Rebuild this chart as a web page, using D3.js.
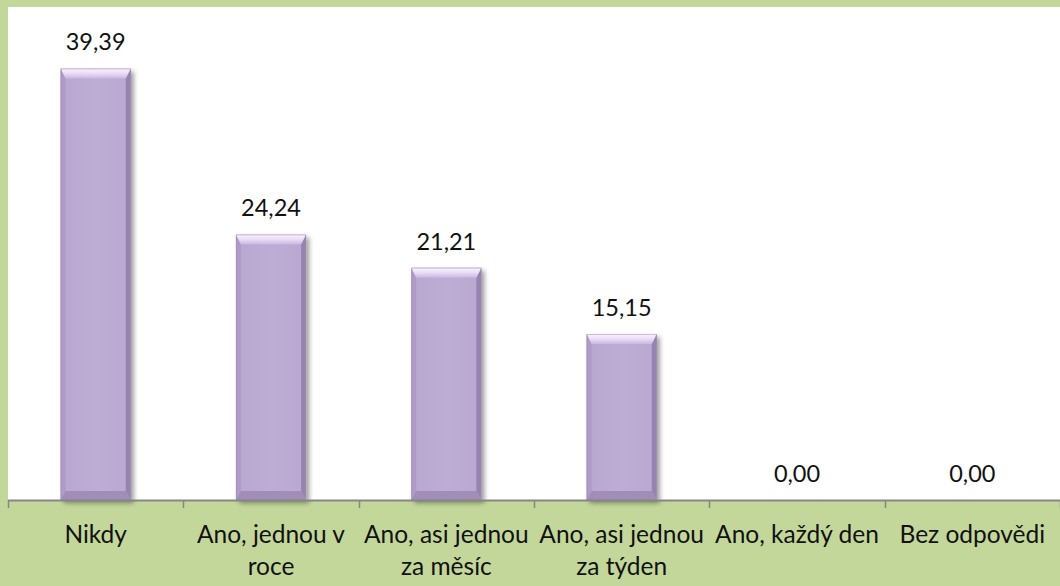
<!DOCTYPE html>
<html>
<head>
<meta charset="utf-8">
<script src="https://cdn.jsdelivr.net/npm/d3@7"></script>
<style>
  html, body { margin: 0; padding: 0; background: #c4d79b; }
  svg { display: block; }
  text { font-family: Lato, "Open Sans", sans-serif; fill: #111; }
</style>
</head>
<body>
<svg id="chart" width="1060" height="586"></svg>
<script>
// Survey answers and their shares (%)
const categories = ["Nikdy", "Ano, jednou v roce", "Ano, asi jednou za měsíc", "Ano, asi jednou za týden", "Ano, každý den", "Bez odpovědi"];
const values = [39.39, 24.24, 21.21, 15.15, 0.00, 0.00];
const yMax = 45;

const W = 1060, H = 586;
const plot = { left: 8, right: 1060, top: 7, bottom: 500 };

const svg = d3.select("#chart");

// Background frame and white plot area
svg.append("rect").attr("width", W).attr("height", H).attr("fill", "#c4d79b");
svg.append("rect")
  .attr("x", plot.left).attr("y", plot.top)
  .attr("width", plot.right - plot.left).attr("height", plot.bottom - plot.top)
  .attr("fill", "#ffffff");

const x = d3.scaleBand()
  .domain(categories)
  .range([plot.left, plot.right])
  .paddingInner(0.6)
  .paddingOuter(0.3);

const y = d3.scaleLinear().domain([0, yMax]).range([plot.bottom, plot.top]);

const defs = svg.append("defs");

// Soft shadow under each bar
const shadow = defs.append("filter").attr("id", "barShadow")
  .attr("x", "-20%").attr("y", "-10%").attr("width", "150%").attr("height", "130%");
shadow.append("feGaussianBlur").attr("in", "SourceAlpha").attr("stdDeviation", 2.5).attr("result", "blur");
shadow.append("feOffset").attr("in", "blur").attr("dx", 3).attr("dy", 3).attr("result", "off");
shadow.append("feComponentTransfer").attr("in", "off").attr("result", "shade")
  .append("feFuncA").attr("type", "linear").attr("slope", 0.4);
const merge = shadow.append("feMerge");
merge.append("feMergeNode").attr("in", "shade");
merge.append("feMergeNode").attr("in", "SourceGraphic");

// Bevel gradients
const gTop = defs.append("linearGradient").attr("id", "bevelTop").attr("x1", 0).attr("y1", 0).attr("x2", 0).attr("y2", 1);
gTop.append("stop").attr("offset", 0).attr("stop-color", "#fbf4ff");
gTop.append("stop").attr("offset", 0.5).attr("stop-color", "#e9dcf6");
gTop.append("stop").attr("offset", 1).attr("stop-color", "#c9b8de");
const gBody = defs.append("linearGradient").attr("id", "bevelBody").attr("x1", 0).attr("y1", 0).attr("x2", 1).attr("y2", 0);
gBody.append("stop").attr("offset", 0).attr("stop-color", "#b8a7cf");
gBody.append("stop").attr("offset", 0.5).attr("stop-color", "#bdacd4");
gBody.append("stop").attr("offset", 1).attr("stop-color", "#b9a8d0");

const data = categories.map((c, i) => ({ c, v: values[i] }));

const bars = svg.append("g").selectAll("g.bar")
  .data(data.filter(d => d.v > 0))
  .join("g").attr("class", "bar");

bars.each(function(d) {
  const g = d3.select(this);
  const x0 = x(d.c), w = x.bandwidth();
  const y0 = y(d.v), y1 = y(0);
  const bt = 10, bs = 5, bb = 9;   // bevel depths: top, sides, bottom
  const x1 = x0 + w;
  g.append("rect")
    .attr("x", x0).attr("y", y0).attr("width", w).attr("height", y1 - y0)
    .attr("fill", "url(#bevelBody)")
    .attr("filter", "url(#barShadow)");
  // left edge
  g.append("path").attr("d", `M${x0},${y0}L${x0 + bs},${y0 + bt}L${x0 + bs},${y1 - bb}L${x0},${y1}Z`)
    .attr("fill", "#ab99c3").attr("opacity", 0.8);
  // right edge
  g.append("path").attr("d", `M${x1},${y0}L${x1 - bs},${y0 + bt}L${x1 - bs},${y1 - bb}L${x1},${y1}Z`)
    .attr("fill", "#8f7daa").attr("opacity", 0.85);
  // bottom edge
  g.append("path").attr("d", `M${x0},${y1}L${x0 + bs},${y1 - bb}L${x1 - bs},${y1 - bb}L${x1},${y1}Z`)
    .attr("fill", "#a08eb9");
  // top edge
  g.append("path").attr("d", `M${x0},${y0}L${x1},${y0}L${x1 - bs},${y0 + bt}L${x0 + bs},${y0 + bt}Z`)
    .attr("fill", "url(#bevelTop)");
  // thin outline
  g.append("rect")
    .attr("x", x0 + 0.5).attr("y", y0 + 0.5).attr("width", w - 1).attr("height", y1 - y0 - 1)
    .attr("fill", "none").attr("stroke", "#9d8bb6").attr("stroke-width", 1).attr("opacity", 0.5);
});

// Value labels
svg.append("g").selectAll("text")
  .data(data)
  .join("text")
  .attr("x", d => x(d.c) + x.bandwidth() / 2)
  .attr("y", d => y(d.v) - 18)
  .attr("text-anchor", "middle")
  .attr("font-size", 23.5)
  .text(d => d.v.toFixed(2).replace(".", ","));

// Category axis
const axis = svg.append("g").attr("transform", `translate(0,${plot.bottom})`);
axis.append("line")
  .attr("x1", plot.left).attr("x2", plot.right).attr("y1", 0.5).attr("y2", 0.5)
  .attr("stroke", "#868686").attr("stroke-width", 2);
const step = x.step();
const tickPos = d3.range(categories.length + 1).map(i => plot.left + i * step);
axis.selectAll("line.tick").data(tickPos).join("line").attr("class", "tick")
  .attr("x1", d => Math.round(d) + 0.5).attr("x2", d => Math.round(d) + 0.5)
  .attr("y1", 0).attr("y2", 8)
  .attr("stroke", "#868686").attr("stroke-width", 1.5);

// Wrapped category labels
const labelG = axis.append("g");
categories.forEach(c => {
  const cx = x(c) + x.bandwidth() / 2;
  const t = labelG.append("text")
    .attr("text-anchor", "middle")
    .attr("font-size", 24.5)
    .attr("x", cx)
    .attr("y", 43);
  const words = c.split(" ");
  let line = [];
  let ts = t.append("tspan").attr("x", cx).attr("dy", 0);
  words.forEach(word => {
    line.push(word);
    ts.text(line.join(" "));
    if (ts.node().getComputedTextLength() > step - 4 && line.length > 1) {
      line.pop();
      ts.text(line.join(" "));
      line = [word];
      ts = t.append("tspan").attr("x", cx).attr("dy", 32).text(word);
    }
  });
});
</script>
</body>
</html>
